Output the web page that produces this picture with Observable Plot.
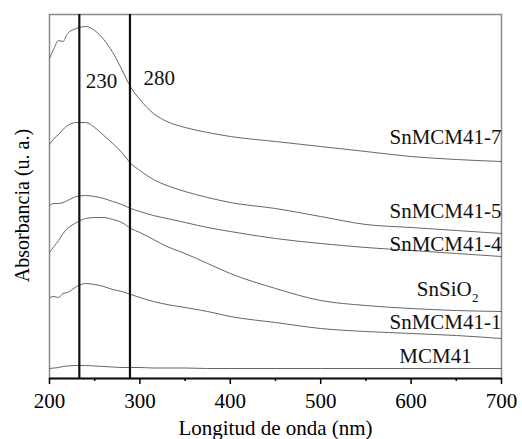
<!DOCTYPE html>
<html>
<head>
<meta charset="utf-8">
<script src="https://cdn.jsdelivr.net/npm/d3@7"></script>
<script src="https://cdn.jsdelivr.net/npm/@observablehq/plot@0.6"></script>
<style>
  html, body { margin: 0; padding: 0; background: #fff; }
  #chart svg { display: block; }
  #chart svg, #chart svg text { font-family: "Liberation Serif", "DejaVu Serif", serif !important; }
</style>
</head>
<body>
<div id="chart"></div>
<script>
// Wavelength grid (nm)
const wavelengths = [200, 205, 210, 215, 220, 230, 240, 250, 260, 270, 280, 290, 300, 315, 330, 350, 375, 400, 450, 500, 550, 600, 650, 700];

// Absorbance (arbitrary units, offset stacks as in the figure)
const snmcm41_7 = [320, 330, 338, 337, 345, 350, 352, 348, 339, 326, 309, 291, 279, 265, 257, 251, 246, 242, 237, 232, 227, 222, 219, 217];
const snmcm41_5 = [234, 240, 244, 249, 253, 256, 256, 251, 243, 235, 226, 215, 208, 199, 193, 187, 181, 176, 170, 162, 154, 151, 148, 145];
const snmcm41_4 = [173, 175, 175, 176, 178, 182, 183, 182, 180, 177, 174, 170, 167, 163, 160, 156, 151, 147, 140, 135, 131, 128, 125, 122];
const snsio2    = [126, 132, 138, 145, 150, 156, 160, 161, 161, 159, 156, 150, 146, 139, 132, 125, 115, 105, 90, 78, 73, 70, 68, 67];
const snmcm41_1 = [81, 82, 81, 85, 86, 92, 95, 94, 92, 89, 87, 84, 81, 77, 74, 71, 67, 62, 56, 50, 47, 45, 43, 40];
const mcm41     = [10, 10.5, 11, 12, 12.5, 13, 13, 12.5, 12, 11.5, 11, 11, 11, 10.5, 10.5, 10.5, 10, 10, 10, 10, 10, 10, 10, 10];

const seriesNames = ["SnMCM41-7", "SnMCM41-5", "SnMCM41-4", "SnSiO2", "SnMCM41-1", "MCM41"];
const seriesValues = [snmcm41_7, snmcm41_5, snmcm41_4, snsio2, snmcm41_1, mcm41];

// Reference wavelength lines
const refLines = [233, 289];
const refLabels = ["230", "280"];

// X ticks
const majorTicks = [200, 300, 400, 500, 600, 700];
const minorTicks = [250, 350, 450, 550, 650];

// Build long table
const rows = [];
seriesNames.forEach((name, i) => {
  wavelengths.forEach((w, j) => rows.push({series: name, nm: w, abs: seriesValues[i][j]}));
});

// Label annotations (data coordinates)
const curveLabels = [
  {text: "SnMCM41-7", nm: 700, abs: 235},
  {text: "SnMCM41-5", nm: 700, abs: 161},
  {text: "SnMCM41-4", nm: 700, abs: 128},
  {text: "SnMCM41-1", nm: 700, abs: 50},
  {text: "MCM41", nm: 667, abs: 16}
];
const sioLabel = [{text: "SnSiO", nm: 667, abs: 83}];
const sioSub = [{text: "2", nm: 667.5, abs: 77}];
const refTextPos = [{text: refLabels[0], nm: 240, abs: 291}, {text: refLabels[1], nm: 304, abs: 294}];

const font = "Liberation Serif";

const chart = Plot.plot({
  width: 522,
  height: 439,
  marginLeft: 49,
  marginRight: 21,
  marginTop: 14,
  marginBottom: 61,
  style: {fontFamily: font, fontSize: "20px", background: "#fff", color: "#000"},
  x: {domain: [200, 700]},
  y: {domain: [0, 364], axis: null},
  marks: [
    Plot.frame({stroke: "#8a8a8a", strokeWidth: 1.5}),
    Plot.line(rows, {x: "nm", y: "abs", z: "series", stroke: "#666", strokeWidth: 1, curve: "monotone-x"}),
    Plot.ruleX(refLines, {stroke: "#111", strokeWidth: 2.2}),
    Plot.ruleY([0], {stroke: "#111", strokeWidth: 2.2}),
    Plot.axisX(majorTicks, {tickSize: 6, tickPadding: 9, strokeWidth: 1.5, fontSize: 21, fontFamily: font, label: null}),
    Plot.axisX(minorTicks, {tickSize: 3, strokeWidth: 1.5, tickFormat: () => "", label: null}),
    Plot.text(["Longitud de onda (nm)"], {frameAnchor: "bottom", textAnchor: "middle", dy: 56, fontSize: 21, fontFamily: font, lineAnchor: "bottom"}),
    Plot.text(["Absorbancia (u. a.)"], {frameAnchor: "left", textAnchor: "middle", rotate: -90, dx: -21, dy: 9, fontSize: 20, fontFamily: font, lineAnchor: "bottom"}),
    Plot.text(curveLabels, {x: "nm", y: "abs", text: "text", textAnchor: "end", lineAnchor: "bottom", fontSize: 21, fontFamily: font, fill: "#111"}),
    Plot.text(sioLabel, {x: "nm", y: "abs", text: "text", textAnchor: "end", lineAnchor: "bottom", fontSize: 21, fontFamily: font, fill: "#111"}),
    Plot.text(sioSub, {x: "nm", y: "abs", text: "text", textAnchor: "start", lineAnchor: "bottom", fontSize: 13, fontFamily: font, fill: "#111"}),
    Plot.text(refTextPos, {x: "nm", y: "abs", text: "text", textAnchor: "start", lineAnchor: "bottom", fontSize: 21, fontFamily: font, fill: "#111"})
  ]
});
document.getElementById("chart").appendChild(chart);
</script>
</body>
</html>
